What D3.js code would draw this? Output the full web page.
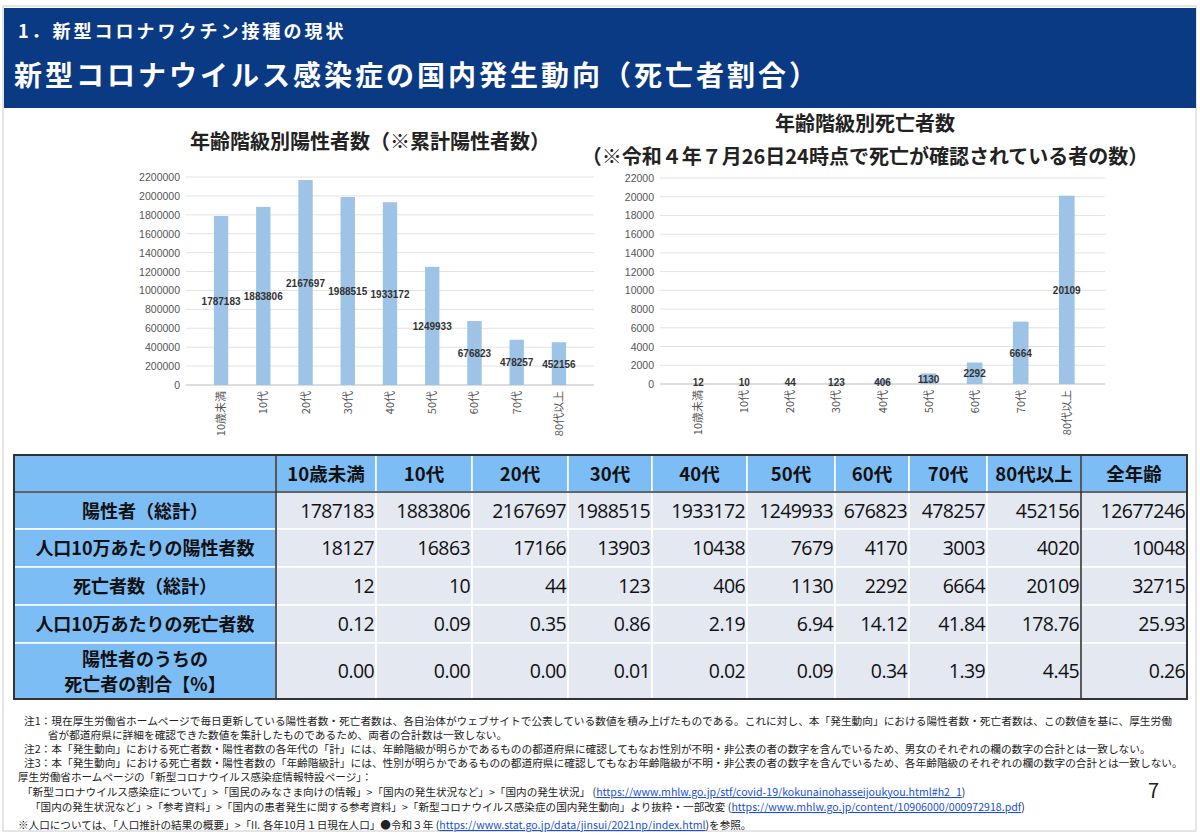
<!DOCTYPE html>
<html lang="ja">
<head>
<meta charset="UTF-8">
<script src="https://d3js.org/d3.v7.min.js"></script>
<style>
  body { margin: 0; background: #fff; }
  svg { display: block; font-family: "Noto Sans CJK JP", "Noto Sans", sans-serif; }
</style>
</head>
<body>
<script>
const ages = ["10歳未満", "10代", "20代", "30代", "40代", "50代", "60代", "70代", "80代以上"];
const positives = [1787183, 1883806, 2167697, 1988515, 1933172, 1249933, 676823, 478257, 452156];
const deaths = [12, 10, 44, 123, 406, 1130, 2292, 6664, 20109];
const tableCols = ["10歳未満", "10代", "20代", "30代", "40代", "50代", "60代", "70代", "80代以上", "全年齢"];
const rowLabels = [["陽性者（総計）"], ["人口10万あたりの陽性者数"], ["死亡者数（総計）"], ["人口10万あたりの死亡者数"], ["陽性者のうちの", "死亡者の割合【%】"]];
const rowValues = [
  ["1787183", "1883806", "2167697", "1988515", "1933172", "1249933", "676823", "478257", "452156", "12677246"],
  ["18127", "16863", "17166", "13903", "10438", "7679", "4170", "3003", "4020", "10048"],
  ["12", "10", "44", "123", "406", "1130", "2292", "6664", "20109", "32715"],
  ["0.12", "0.09", "0.35", "0.86", "2.19", "6.94", "14.12", "41.84", "178.76", "25.93"],
  ["0.00", "0.00", "0.00", "0.01", "0.02", "0.09", "0.34", "1.39", "4.45", "0.26"]
];
const notes = [
  "注1：現在厚生労働省ホームページで毎日更新している陽性者数・死亡者数は、各自治体がウェブサイトで公表している数値を積み上げたものである。これに対し、本「発生動向」における陽性者数・死亡者数は、この数値を基に、厚生労働",
  "　　 省が都道府県に詳細を確認できた数値を集計したものであるため、両者の合計数は一致しない。",
  "注2：本「発生動向」における死亡者数・陽性者数の各年代の「計」には、年齢階級が明らかであるものの都道府県に確認してもなお性別が不明・非公表の者の数字を含んでいるため、男女のそれぞれの欄の数字の合計とは一致しない。",
  "注3：本「発生動向」における死亡者数・陽性者数の「年齢階級計」には、性別が明らかであるものの都道府県に確認してもなお年齢階級が不明・非公表の者の数字を含んでいるため、各年齢階級のそれぞれの欄の数字の合計とは一致しない。"
];

const W = 1200, H = 837;
const svg = d3.select("body").append("svg").attr("width", W).attr("height", H);

// page frame + header
svg.append("rect").attr("x", 3).attr("y", 6).attr("width", W - 7).attr("height", H - 12)
  .attr("fill", "#fff").attr("stroke", "#ccc");
svg.append("rect").attr("x", 4).attr("y", 8).attr("width", W - 8).attr("height", 100).attr("fill", "#0b3a84");
svg.append("text").attr("x", 18).attr("y", 38).attr("fill", "#fff").attr("font-size", 18)
  .attr("font-weight", "bold").attr("letter-spacing", 3).text("1．新型コロナワクチン接種の現状");
svg.append("text").attr("x", 14).attr("y", 86).attr("fill", "#fff").attr("font-size", 28)
  .attr("font-weight", "bold").attr("letter-spacing", 3).text("新型コロナウイルス感染症の国内発生動向（死亡者割合）");

function barChart(opt) {
  const x = d3.scaleBand().domain(ages).range([opt.x0, opt.x1]).padding(0.66);
  const y = d3.scaleLinear().domain([0, opt.max]).range([opt.y0, opt.y1]);
  const g = svg.append("g");
  const ticks = d3.range(0, opt.max + 1, opt.step);
  g.selectAll(".grid").data(ticks).join("line")
    .attr("x1", opt.x0).attr("x2", opt.x1).attr("y1", d => y(d)).attr("y2", d => y(d))
    .attr("stroke", d => d === 0 ? "#bbb" : "#e2e2e2");
  g.selectAll(".tl").data(ticks).join("text")
    .attr("x", opt.x0 - 6).attr("y", d => y(d) + 4).attr("text-anchor", "end")
    .attr("font-size", 10.5).attr("fill", "#555").attr("font-family", "Liberation Sans, sans-serif").text(d => d);
  g.selectAll(".bar").data(opt.values).join("rect")
    .attr("x", (d, i) => x(ages[i])).attr("width", x.bandwidth())
    .attr("y", d => y(d)).attr("height", d => opt.y0 - y(d)).attr("fill", "#9dc3e6");
  g.selectAll(".vl").data(opt.values).join("text")
    .attr("x", (d, i) => x(ages[i]) + x.bandwidth() / 2)
    .attr("y", d => Math.min((y(d) + opt.y0) / 2, opt.y0 - 2) + 4)
    .attr("text-anchor", "middle").attr("font-size", 10).attr("font-weight", "bold").attr("fill", "#333")
    .attr("font-family", "Liberation Sans, sans-serif").text(d => d);
  g.selectAll(".xl").data(ages).join("text")
    .attr("transform", d => `translate(${x(d) + x.bandwidth() / 2 + 4},${opt.y0 + 6}) rotate(-90)`)
    .attr("text-anchor", "end").attr("font-size", 11).attr("fill", "#555").text(d => d);
}

svg.append("text").attr("x", 370).attr("y", 149).attr("text-anchor", "middle").attr("font-size", 20)
  .attr("font-weight", "bold").attr("fill", "#222").text("年齢階級別陽性者数（※累計陽性者数）");
barChart({ values: positives, max: 2200000, step: 200000, x0: 186, x1: 594, y0: 385, y1: 177 });

svg.append("text").attr("x", 865).attr("y", 131).attr("text-anchor", "middle").attr("font-size", 20)
  .attr("font-weight", "bold").attr("fill", "#222").text("年齢階級別死亡者数");
svg.append("text").attr("x", 865).attr("y", 164).attr("text-anchor", "middle").attr("font-size", 20)
  .attr("font-weight", "bold").attr("fill", "#222").text("（※令和４年７月26日24時点で死亡が確認されている者の数）");
barChart({ values: deaths, max: 22000, step: 2000, x0: 660, x1: 1105, y0: 384, y1: 178 });

// table
const colEdges = [14, 276, 376, 472, 568, 652, 747, 835, 909, 987, 1081, 1187];
const rowEdges = [455, 492, 529, 567, 605, 643, 699];
const tg = svg.append("g");
for (let r = 0; r < 6; r++) {
  for (let c = 0; c < 11; c++) {
    const head = r === 0 || c === 0;
    tg.append("rect").attr("x", colEdges[c]).attr("y", rowEdges[r])
      .attr("width", colEdges[c + 1] - colEdges[c]).attr("height", rowEdges[r + 1] - rowEdges[r])
      .attr("fill", head ? "#7dbdf5" : "#e4e8f1").attr("stroke", "#fff").attr("stroke-width", 1.5);
  }
}
tableCols.forEach((t, c) => {
  tg.append("text").attr("x", (colEdges[c + 1] + colEdges[c + 2]) / 2).attr("y", 481)
    .attr("text-anchor", "middle").attr("font-size", 18.5).attr("font-weight", "bold").attr("fill", "#111").text(t);
});
rowLabels.forEach((lines, r) => {
  const cy = (rowEdges[r + 1] + rowEdges[r + 2]) / 2;
  lines.forEach((l, k) => {
    tg.append("text").attr("x", (colEdges[0] + colEdges[1]) / 2)
      .attr("y", cy + 7 + (k - (lines.length - 1) / 2) * 25)
      .attr("text-anchor", "middle").attr("font-size", 18).attr("font-weight", "bold").attr("fill", "#111").text(l);
  });
  rowValues[r].forEach((v, c) => {
    tg.append("text").attr("x", colEdges[c + 2] - 2).attr("y", cy + 7)
      .attr("text-anchor", "end").attr("font-size", 19.5).attr("fill", "#111")
      .attr("font-family", "Open Sans, sans-serif").attr("letter-spacing", -0.6).text(v);
  });
});
tg.append("rect").attr("x", 14).attr("y", 455).attr("width", 1173).attr("height", 244)
  .attr("fill", "none").attr("stroke", "#333").attr("stroke-width", 2);
[[276, 455, 276, 699], [1081, 455, 1081, 699], [14, 492, 1187, 492]].forEach(l => {
  tg.append("line").attr("x1", l[0]).attr("y1", l[1]).attr("x2", l[2]).attr("y2", l[3])
    .attr("stroke", "#333").attr("stroke-width", 1.6);
});

// notes
const ng = svg.append("g").attr("font-size", 10.7).attr("fill", "#222");
notes.forEach((n, i) => ng.append("text").attr("x", 24).attr("y", 725 + i * 14).text(n));

function linkLine(y, x, parts) {
  const t = ng.append("text").attr("x", x).attr("y", y).attr("font-size", 10.6);
  parts.forEach(p => t.append("tspan").attr("fill", p[1] ? "#1a4fd0" : "#222")
    .attr("text-decoration", p[1] ? "underline" : null).text(p[0]));
}
linkLine(781, 18, [["厚生労働省ホームページの「新型コロナウイルス感染症情報特設ページ」："]]);
linkLine(796, 22, [["「新型コロナウイルス感染症について」>「国民のみなさま向けの情報」>「国内の発生状況など」>「国内の発生状況」 ("], ["https://www.mhlw.go.jp/stf/covid-19/kokunainohasseijoukyou.html#h2_1", true], [")"]]);
linkLine(811, 30, [["「国内の発生状況など」>「参考資料」>「国内の患者発生に関する参考資料」>「新型コロナウイルス感染症の国内発生動向」より抜粋・一部改変 ("], ["https://www.mhlw.go.jp/content/10906000/000972918.pdf", true], [")"]]);
linkLine(829, 18, [["※人口については、「人口推計の結果の概要」>「II. 各年10月１日現在人口」●令和３年 ("], ["https://www.stat.go.jp/data/jinsui/2021np/index.html", true], [")を参照。"]]);
svg.append("text").attr("x", 1148).attr("y", 798).attr("font-size", 20).attr("fill", "#222").text("7");
</script>
</body>
</html>
